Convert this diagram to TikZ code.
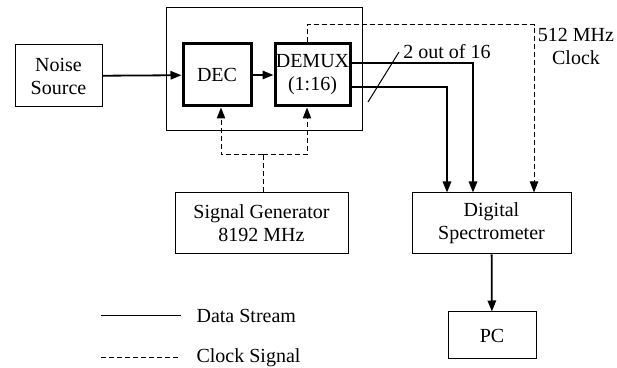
\documentclass[tikz,border=0pt]{standalone}
\usepackage{fontspec}
\setmainfont{Liberation Serif}
\usetikzlibrary{arrows.meta,positioning}

\begin{document}
\begin{tikzpicture}[x=0.5pt, y=-0.5pt, >={Triangle[length=5.5pt,width=4.2pt]},
  every node/.style={font=\fontsize{10}{11.5}\selectfont},
  block/.style={draw, line width=0.5pt, align=center, inner sep=0pt},
  unit/.style={draw, line width=1.5pt, align=center, inner sep=0pt},
  data/.style={->, line width=0.9pt},
  clk/.style={->, line width=0.5pt, dash pattern=on 2.5pt off 1.5pt}]
\useasboundingbox (0,0) rectangle (617,368);
\node[block, minimum width=43.5pt, minimum height=31pt] (noise) at (58.5,76) {Noise\\Source};
\node[block, minimum width=98pt, minimum height=61.5pt] (module) at (264,69.5) {};
\node[unit, minimum width=34pt, minimum height=31pt] (dec) at (217,75) {DEC};
\node[unit, minimum width=37.5pt, minimum height=31pt] (demux) at (312.5,75) {DEMUX\\(1:16)};
\node[block, minimum width=86.5pt, minimum height=30.5pt] (siggen) at (261.5,223.5) {Signal Generator\\8192 MHz};
\node[block, minimum width=79.5pt, minimum height=30.5pt] (spec) at (491.5,223.5) {Digital\\Spectrometer};
\node[block, minimum width=44pt, minimum height=23.5pt] (pc) at (492,335.5) {PC};
% data stream
\draw[data] (noise) -- (dec);
\draw[data] (dec) -- (demux);
\draw[data] ([yshift=6pt]demux.east) -| ([xshift=-9.25pt]spec.north);
\draw[data] ([yshift=-6pt]demux.east) -| ([xshift=-22.25pt]spec.north);
\draw[line width=0.5pt] (368,102) coordinate (cut) -- (399,52) coordinate (cutend);
\node[anchor=west, inner sep=1pt] (cutlabel) at ([xshift=1pt]cutend) {2 out of 16};
\draw[data] (spec) -- (pc);
% clock signal
\coordinate (split) at (263,155);
\coordinate (clkcorner) at (534,25);
\draw[clk, -] (siggen.north -| split) -- (split);
\draw[clk] (split) -| ([xshift=2pt]dec.south);
\draw[clk] (split) -| ([xshift=-2.75pt]demux.south);
\draw[clk] ([xshift=-2.75pt]demux.north) |- (clkcorner) -- (clkcorner |- spec.north);
\node[anchor=north, align=center, inner sep=1pt] (clklabel) at (576,26) {512 MHz\\Clock};
% legend
\coordinate (datakey) at (101,316);
\coordinate (clkkey) at (101,358);
\draw[line width=0.5pt] (datakey) -- ++(80,0) node[anchor=west, xshift=4.2pt] (datatext) {Data Stream};
\draw[line width=0.5pt, dash pattern=on 2.5pt off 1.5pt] (clkkey) -- ++(80,0) node[anchor=west, xshift=4.2pt] (clktext) {Clock Signal};
\end{tikzpicture}
\end{document}
